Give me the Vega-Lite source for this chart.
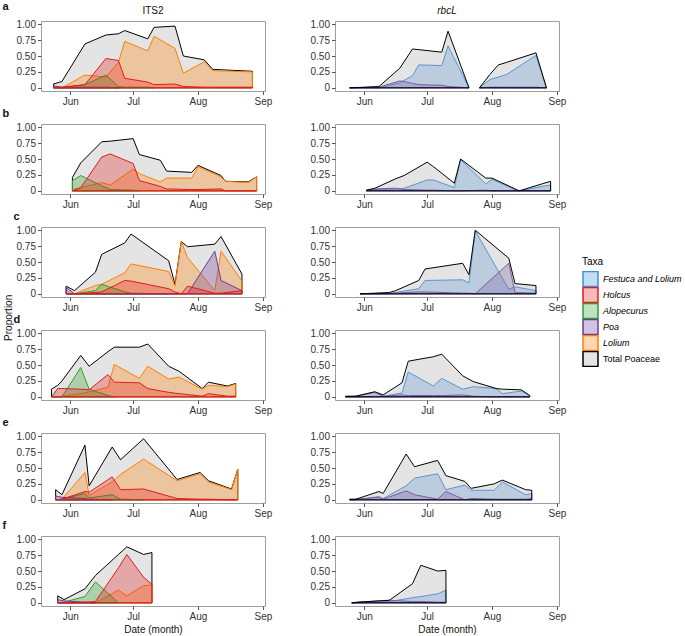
{
"$schema":"https://vega.github.io/schema/vega-lite/v6.json",
"padding":{"left":2,"top":0,"right":0,"bottom":0},
"background":"white",
"title":{"text":"Proportion","orient":"left","anchor":"middle","fontSize":10,"fontWeight":"normal","offset":-11},
"config":{
"font":"Liberation Sans",
"view":{"stroke":"#9e9e9e","strokeWidth":1},
"axis":{"grid":false,"domain":false,"tickColor":"#555555","tickSize":3.5,"labelFontSize":10,"labelColor":"#333333","labelPadding":2,"titleFontSize":10,"titleFontWeight":"normal","titleColor":"#111111","titlePadding":3},
"title":{"fontSize":10,"fontWeight":"normal","color":"#111111"}
},
"datasets":{
"aI":[
{"t":"T","d":"2017-05-24","v":0.06},{"t":"T","d":"2017-05-28","v":0.10},{"t":"T","d":"2017-06-08","v":0.69},{"t":"T","d":"2017-06-18","v":0.83},{"t":"T","d":"2017-06-24","v":0.85},{"t":"T","d":"2017-06-27","v":0.90},{"t":"T","d":"2017-07-08","v":0.77},{"t":"T","d":"2017-07-11","v":0.95},{"t":"T","d":"2017-07-21","v":0.97},{"t":"T","d":"2017-07-25","v":0.50},{"t":"T","d":"2017-08-04","v":0.44},{"t":"T","d":"2017-08-08","v":0.29},{"t":"T","d":"2017-08-27","v":0.26},
{"t":"Lo","d":"2017-05-24","v":0},{"t":"Lo","d":"2017-05-28","v":0},{"t":"Lo","d":"2017-06-08","v":0.20},{"t":"Lo","d":"2017-06-18","v":0.17},{"t":"Lo","d":"2017-06-24","v":0.40},{"t":"Lo","d":"2017-06-27","v":0.73},{"t":"Lo","d":"2017-07-08","v":0.58},{"t":"Lo","d":"2017-07-11","v":0.81},{"t":"Lo","d":"2017-07-21","v":0.62},{"t":"Lo","d":"2017-07-25","v":0.23},{"t":"Lo","d":"2017-08-04","v":0.41},{"t":"Lo","d":"2017-08-08","v":0.27},{"t":"Lo","d":"2017-08-27","v":0.25},
{"t":"Al","d":"2017-05-24","v":0},{"t":"Al","d":"2017-05-28","v":0},{"t":"Al","d":"2017-06-08","v":0.05},{"t":"Al","d":"2017-06-18","v":0.20},{"t":"Al","d":"2017-06-24","v":0.02},{"t":"Al","d":"2017-06-27","v":0.01},{"t":"Al","d":"2017-07-08","v":0.01},{"t":"Al","d":"2017-07-11","v":0},
{"t":"Po","d":"2017-05-24","v":0.03},{"t":"Po","d":"2017-05-28","v":0.01},{"t":"Po","d":"2017-06-08","v":0.01},{"t":"Po","d":"2017-06-18","v":0.01},{"t":"Po","d":"2017-06-24","v":0},
{"t":"Ho","d":"2017-05-24","v":0.01},{"t":"Ho","d":"2017-05-28","v":0.01},{"t":"Ho","d":"2017-06-08","v":0.05},{"t":"Ho","d":"2017-06-18","v":0.46},{"t":"Ho","d":"2017-06-24","v":0.43},{"t":"Ho","d":"2017-06-27","v":0.15},{"t":"Ho","d":"2017-07-08","v":0.09},{"t":"Ho","d":"2017-07-11","v":0.05},{"t":"Ho","d":"2017-07-21","v":0.06},{"t":"Ho","d":"2017-07-25","v":0.02},{"t":"Ho","d":"2017-08-04","v":0.01},{"t":"Ho","d":"2017-08-08","v":0.01},{"t":"Ho","d":"2017-08-27","v":0.01}
],
"bI":[
{"t":"T","d":"2017-06-02","v":0.21},{"t":"T","d":"2017-06-06","v":0.44},{"t":"T","d":"2017-06-16","v":0.77},{"t":"T","d":"2017-06-20","v":0.78},{"t":"T","d":"2017-07-01","v":0.82},{"t":"T","d":"2017-07-04","v":0.57},{"t":"T","d":"2017-07-14","v":0.48},{"t":"T","d":"2017-07-17","v":0.31},{"t":"T","d":"2017-07-29","v":0.29},{"t":"T","d":"2017-08-01","v":0.40},{"t":"T","d":"2017-08-12","v":0.24},{"t":"T","d":"2017-08-14","v":0.15},{"t":"T","d":"2017-08-25","v":0.14},{"t":"T","d":"2017-08-29","v":0.22},
{"t":"Lo","d":"2017-06-02","v":0.02},{"t":"Lo","d":"2017-06-06","v":0.05},{"t":"Lo","d":"2017-06-16","v":0.13},{"t":"Lo","d":"2017-06-20","v":0.09},{"t":"Lo","d":"2017-07-01","v":0.34},{"t":"Lo","d":"2017-07-04","v":0.27},{"t":"Lo","d":"2017-07-14","v":0.14},{"t":"Lo","d":"2017-07-17","v":0.20},{"t":"Lo","d":"2017-07-29","v":0.20},{"t":"Lo","d":"2017-08-01","v":0.38},{"t":"Lo","d":"2017-08-12","v":0.22},{"t":"Lo","d":"2017-08-14","v":0.15},{"t":"Lo","d":"2017-08-25","v":0.13},{"t":"Lo","d":"2017-08-29","v":0.22},
{"t":"Al","d":"2017-06-02","v":0.16},{"t":"Al","d":"2017-06-06","v":0.24},{"t":"Al","d":"2017-06-16","v":0.08},{"t":"Al","d":"2017-06-20","v":0.02},{"t":"Al","d":"2017-07-01","v":0.01},{"t":"Al","d":"2017-07-04","v":0},
{"t":"Ho","d":"2017-06-02","v":0},{"t":"Ho","d":"2017-06-06","v":0.05},{"t":"Ho","d":"2017-06-16","v":0.53},{"t":"Ho","d":"2017-06-20","v":0.58},{"t":"Ho","d":"2017-07-01","v":0.43},{"t":"Ho","d":"2017-07-04","v":0.16},{"t":"Ho","d":"2017-07-14","v":0.07},{"t":"Ho","d":"2017-07-17","v":0.03},{"t":"Ho","d":"2017-07-29","v":0.02},{"t":"Ho","d":"2017-08-01","v":0.02},{"t":"Ho","d":"2017-08-12","v":0.03},{"t":"Ho","d":"2017-08-14","v":0},{"t":"Ho","d":"2017-08-25","v":0},{"t":"Ho","d":"2017-08-29","v":0}
],
"cI":[
{"t":"T","d":"2017-05-30","v":0.12},{"t":"T","d":"2017-06-03","v":0.05},{"t":"T","d":"2017-06-13","v":0.34},{"t":"T","d":"2017-06-16","v":0.62},{"t":"T","d":"2017-06-27","v":0.80},{"t":"T","d":"2017-06-30","v":0.94},{"t":"T","d":"2017-07-18","v":0.52},{"t":"T","d":"2017-07-21","v":0.15},{"t":"T","d":"2017-07-24","v":0.82},{"t":"T","d":"2017-07-27","v":0.74},{"t":"T","d":"2017-08-09","v":0.78},{"t":"T","d":"2017-08-12","v":0.90},{"t":"T","d":"2017-08-22","v":0.31},
{"t":"Lo","d":"2017-05-30","v":0},{"t":"Lo","d":"2017-06-03","v":0},{"t":"Lo","d":"2017-06-13","v":0.13},{"t":"Lo","d":"2017-06-16","v":0.15},{"t":"Lo","d":"2017-06-27","v":0.33},{"t":"Lo","d":"2017-06-30","v":0.47},{"t":"Lo","d":"2017-07-18","v":0.35},{"t":"Lo","d":"2017-07-21","v":0.12},{"t":"Lo","d":"2017-07-24","v":0.82},{"t":"Lo","d":"2017-07-27","v":0.57},{"t":"Lo","d":"2017-08-09","v":0.05},{"t":"Lo","d":"2017-08-12","v":0.67},{"t":"Lo","d":"2017-08-22","v":0.20},
{"t":"Al","d":"2017-05-30","v":0},{"t":"Al","d":"2017-06-03","v":0},{"t":"Al","d":"2017-06-13","v":0.05},{"t":"Al","d":"2017-06-16","v":0.15},{"t":"Al","d":"2017-06-27","v":0.03},{"t":"Al","d":"2017-06-30","v":0.01},{"t":"Al","d":"2017-07-18","v":0},
{"t":"Po","d":"2017-05-30","v":0.10},{"t":"Po","d":"2017-06-03","v":0},{"t":"Po","d":"2017-06-13","v":0},{"t":"Po","d":"2017-06-16","v":0},{"t":"Po","d":"2017-06-27","v":0},{"t":"Po","d":"2017-06-30","v":0},{"t":"Po","d":"2017-07-18","v":0},{"t":"Po","d":"2017-07-21","v":0},{"t":"Po","d":"2017-07-24","v":0},{"t":"Po","d":"2017-07-27","v":0},{"t":"Po","d":"2017-08-09","v":0.67},{"t":"Po","d":"2017-08-12","v":0.21},{"t":"Po","d":"2017-08-22","v":0.05},
{"t":"Ho","d":"2017-05-30","v":0},{"t":"Ho","d":"2017-06-03","v":0},{"t":"Ho","d":"2017-06-13","v":0.02},{"t":"Ho","d":"2017-06-16","v":0.03},{"t":"Ho","d":"2017-06-27","v":0.21},{"t":"Ho","d":"2017-06-30","v":0.20},{"t":"Ho","d":"2017-07-18","v":0.08},{"t":"Ho","d":"2017-07-21","v":0.03},{"t":"Ho","d":"2017-07-24","v":0},{"t":"Ho","d":"2017-07-27","v":0.12},{"t":"Ho","d":"2017-08-09","v":0.01},{"t":"Ho","d":"2017-08-12","v":0.01},{"t":"Ho","d":"2017-08-22","v":0.05}
],
"dI":[
{"t":"T","d":"2017-05-23","v":0.12},{"t":"T","d":"2017-05-26","v":0.18},{"t":"T","d":"2017-05-28","v":0.25},{"t":"T","d":"2017-06-06","v":0.65},{"t":"T","d":"2017-06-10","v":0.48},{"t":"T","d":"2017-06-19","v":0.71},{"t":"T","d":"2017-06-22","v":0.78},{"t":"T","d":"2017-07-04","v":0.78},{"t":"T","d":"2017-07-08","v":0.83},{"t":"T","d":"2017-07-18","v":0.48},{"t":"T","d":"2017-07-23","v":0.40},{"t":"T","d":"2017-08-03","v":0.13},{"t":"T","d":"2017-08-06","v":0.23},{"t":"T","d":"2017-08-15","v":0.17},{"t":"T","d":"2017-08-19","v":0.21},
{"t":"Lo","d":"2017-05-23","v":0},{"t":"Lo","d":"2017-05-26","v":0},{"t":"Lo","d":"2017-05-28","v":0.01},{"t":"Lo","d":"2017-06-06","v":0.05},{"t":"Lo","d":"2017-06-10","v":0.08},{"t":"Lo","d":"2017-06-19","v":0.15},{"t":"Lo","d":"2017-06-22","v":0.51},{"t":"Lo","d":"2017-07-04","v":0.29},{"t":"Lo","d":"2017-07-08","v":0.48},{"t":"Lo","d":"2017-07-18","v":0.28},{"t":"Lo","d":"2017-07-23","v":0.31},{"t":"Lo","d":"2017-08-03","v":0.12},{"t":"Lo","d":"2017-08-06","v":0.18},{"t":"Lo","d":"2017-08-15","v":0.16},{"t":"Lo","d":"2017-08-19","v":0.20},
{"t":"Al","d":"2017-05-23","v":0},{"t":"Al","d":"2017-05-26","v":0},{"t":"Al","d":"2017-05-28","v":0},{"t":"Al","d":"2017-06-06","v":0.46},{"t":"Al","d":"2017-06-10","v":0.12},{"t":"Al","d":"2017-06-19","v":0.02},{"t":"Al","d":"2017-06-22","v":0},
{"t":"Ho","d":"2017-05-23","v":0},{"t":"Ho","d":"2017-05-26","v":0.13},{"t":"Ho","d":"2017-05-28","v":0.13},{"t":"Ho","d":"2017-06-06","v":0.12},{"t":"Ho","d":"2017-06-10","v":0.11},{"t":"Ho","d":"2017-06-19","v":0.35},{"t":"Ho","d":"2017-06-22","v":0.23},{"t":"Ho","d":"2017-07-04","v":0.22},{"t":"Ho","d":"2017-07-08","v":0.13},{"t":"Ho","d":"2017-07-18","v":0.07},{"t":"Ho","d":"2017-07-23","v":0.05},{"t":"Ho","d":"2017-08-03","v":0.01},{"t":"Ho","d":"2017-08-06","v":0.05},{"t":"Ho","d":"2017-08-15","v":0.01},{"t":"Ho","d":"2017-08-19","v":0.01}
],
"eI":[
{"t":"T","d":"2017-05-25","v":0.16},{"t":"T","d":"2017-05-28","v":0.08},{"t":"T","d":"2017-06-08","v":0.86},{"t":"T","d":"2017-06-10","v":0.22},{"t":"T","d":"2017-06-21","v":0.83},{"t":"T","d":"2017-06-25","v":0.63},{"t":"T","d":"2017-07-06","v":0.96},{"t":"T","d":"2017-07-22","v":0.32},{"t":"T","d":"2017-08-02","v":0.43},{"t":"T","d":"2017-08-06","v":0.30},{"t":"T","d":"2017-08-17","v":0.17},{"t":"T","d":"2017-08-20","v":0.48},
{"t":"Lo","d":"2017-05-25","v":0},{"t":"Lo","d":"2017-05-28","v":0.01},{"t":"Lo","d":"2017-06-08","v":0.43},{"t":"Lo","d":"2017-06-10","v":0.07},{"t":"Lo","d":"2017-06-21","v":0.28},{"t":"Lo","d":"2017-06-25","v":0.40},{"t":"Lo","d":"2017-07-06","v":0.64},{"t":"Lo","d":"2017-07-22","v":0.30},{"t":"Lo","d":"2017-08-02","v":0.41},{"t":"Lo","d":"2017-08-06","v":0.28},{"t":"Lo","d":"2017-08-17","v":0.16},{"t":"Lo","d":"2017-08-20","v":0.48},
{"t":"Al","d":"2017-05-25","v":0},{"t":"Al","d":"2017-05-28","v":0.01},{"t":"Al","d":"2017-06-08","v":0.10},{"t":"Al","d":"2017-06-10","v":0.03},{"t":"Al","d":"2017-06-21","v":0.08},{"t":"Al","d":"2017-06-25","v":0.01},{"t":"Al","d":"2017-07-06","v":0},
{"t":"Po","d":"2017-05-25","v":0.06},{"t":"Po","d":"2017-05-28","v":0.04},{"t":"Po","d":"2017-06-08","v":0.02},{"t":"Po","d":"2017-06-10","v":0.01},{"t":"Po","d":"2017-06-21","v":0},
{"t":"Ho","d":"2017-05-25","v":0},{"t":"Ho","d":"2017-05-28","v":0.01},{"t":"Ho","d":"2017-06-08","v":0.13},{"t":"Ho","d":"2017-06-10","v":0.12},{"t":"Ho","d":"2017-06-21","v":0.36},{"t":"Ho","d":"2017-06-25","v":0.16},{"t":"Ho","d":"2017-07-06","v":0.17},{"t":"Ho","d":"2017-07-22","v":0.02},{"t":"Ho","d":"2017-08-02","v":0.01},{"t":"Ho","d":"2017-08-06","v":0.01},{"t":"Ho","d":"2017-08-17","v":0},{"t":"Ho","d":"2017-08-20","v":0}
],
"fI":[
{"t":"T","d":"2017-05-26","v":0.11},{"t":"T","d":"2017-05-29","v":0.05},{"t":"T","d":"2017-06-08","v":0.22},{"t":"T","d":"2017-06-13","v":0.43},{"t":"T","d":"2017-06-24","v":0.76},{"t":"T","d":"2017-06-28","v":0.88},{"t":"T","d":"2017-07-06","v":0.76},{"t":"T","d":"2017-07-10","v":0.79},
{"t":"Lo","d":"2017-05-26","v":0},{"t":"Lo","d":"2017-05-29","v":0},{"t":"Lo","d":"2017-06-08","v":0},{"t":"Lo","d":"2017-06-13","v":0},{"t":"Lo","d":"2017-06-24","v":0.20},{"t":"Lo","d":"2017-06-28","v":0.11},{"t":"Lo","d":"2017-07-06","v":0.27},{"t":"Lo","d":"2017-07-10","v":0.28},
{"t":"Al","d":"2017-05-26","v":0},{"t":"Al","d":"2017-05-29","v":0.01},{"t":"Al","d":"2017-06-08","v":0.10},{"t":"Al","d":"2017-06-13","v":0.33},{"t":"Al","d":"2017-06-24","v":0},
{"t":"Po","d":"2017-05-26","v":0.05},{"t":"Po","d":"2017-05-29","v":0.03},{"t":"Po","d":"2017-06-08","v":0.01},{"t":"Po","d":"2017-06-13","v":0},
{"t":"Ho","d":"2017-05-26","v":0},{"t":"Ho","d":"2017-05-29","v":0},{"t":"Ho","d":"2017-06-08","v":0.01},{"t":"Ho","d":"2017-06-13","v":0.02},{"t":"Ho","d":"2017-06-24","v":0.55},{"t":"Ho","d":"2017-06-28","v":0.76},{"t":"Ho","d":"2017-07-06","v":0.40},{"t":"Ho","d":"2017-07-10","v":0.29}
],
"aR":[
{"t":"FL","g":1,"d":"2017-05-25","v":0},{"t":"FL","g":1,"d":"2017-06-08","v":0},{"t":"FL","g":1,"d":"2017-06-18","v":0.08},{"t":"FL","g":1,"d":"2017-06-24","v":0.19},{"t":"FL","g":1,"d":"2017-06-27","v":0.36},{"t":"FL","g":1,"d":"2017-07-08","v":0.35},{"t":"FL","g":1,"d":"2017-07-11","v":0.66},{"t":"FL","g":1,"d":"2017-07-21","v":0},
{"t":"FL","g":2,"d":"2017-07-26","v":0},{"t":"FL","g":2,"d":"2017-07-31","v":0.13},{"t":"FL","g":2,"d":"2017-08-04","v":0.17},{"t":"FL","g":2,"d":"2017-08-08","v":0.21},{"t":"FL","g":2,"d":"2017-08-22","v":0.51},{"t":"FL","g":2,"d":"2017-08-27","v":0},
{"t":"Po","g":1,"d":"2017-05-25","v":0},{"t":"Po","g":1,"d":"2017-06-08","v":0.01},{"t":"Po","g":1,"d":"2017-06-18","v":0.11},{"t":"Po","g":1,"d":"2017-06-24","v":0.07},{"t":"Po","g":1,"d":"2017-06-27","v":0.05},{"t":"Po","g":1,"d":"2017-07-08","v":0.04},{"t":"Po","g":1,"d":"2017-07-11","v":0.02},{"t":"Po","g":1,"d":"2017-07-21","v":0},
{"t":"Po","g":2,"d":"2017-07-26","v":0},{"t":"Po","g":2,"d":"2017-07-31","v":0.01},{"t":"Po","g":2,"d":"2017-08-04","v":0.01},{"t":"Po","g":2,"d":"2017-08-08","v":0.01},{"t":"Po","g":2,"d":"2017-08-22","v":0.01},{"t":"Po","g":2,"d":"2017-08-27","v":0},
{"t":"T","g":1,"d":"2017-05-25","v":0},{"t":"T","g":1,"d":"2017-06-08","v":0.02},{"t":"T","g":1,"d":"2017-06-18","v":0.31},{"t":"T","g":1,"d":"2017-06-24","v":0.61},{"t":"T","g":1,"d":"2017-06-27","v":0.60},{"t":"T","g":1,"d":"2017-07-08","v":0.56},{"t":"T","g":1,"d":"2017-07-11","v":0.89},{"t":"T","g":1,"d":"2017-07-21","v":0},
{"t":"T","g":2,"d":"2017-07-26","v":0},{"t":"T","g":2,"d":"2017-07-31","v":0.21},{"t":"T","g":2,"d":"2017-08-04","v":0.36},{"t":"T","g":2,"d":"2017-08-08","v":0.40},{"t":"T","g":2,"d":"2017-08-22","v":0.55},{"t":"T","g":2,"d":"2017-08-27","v":0}
],
"bR":[
{"t":"FL","d":"2017-06-02","v":0},{"t":"FL","d":"2017-06-06","v":0.02},{"t":"FL","d":"2017-06-16","v":0.03},{"t":"FL","d":"2017-06-20","v":0.04},{"t":"FL","d":"2017-07-01","v":0.17},{"t":"FL","d":"2017-07-04","v":0.17},{"t":"FL","d":"2017-07-14","v":0.05},{"t":"FL","d":"2017-07-17","v":0.49},{"t":"FL","d":"2017-07-29","v":0.11},{"t":"FL","d":"2017-08-01","v":0.18},{"t":"FL","d":"2017-08-12","v":0.02},{"t":"FL","d":"2017-08-14","v":0},{"t":"FL","d":"2017-08-25","v":0.07},{"t":"FL","d":"2017-08-29","v":0.09},
{"t":"Po","d":"2017-06-02","v":0.01},{"t":"Po","d":"2017-06-06","v":0.03},{"t":"Po","d":"2017-06-16","v":0.04},{"t":"Po","d":"2017-06-20","v":0.02},{"t":"Po","d":"2017-07-01","v":0.01},{"t":"Po","d":"2017-07-04","v":0.01},{"t":"Po","d":"2017-07-14","v":0},{"t":"Po","d":"2017-07-17","v":0},{"t":"Po","d":"2017-07-29","v":0.01},{"t":"Po","d":"2017-08-01","v":0},{"t":"Po","d":"2017-08-12","v":0},{"t":"Po","d":"2017-08-14","v":0},{"t":"Po","d":"2017-08-25","v":0},{"t":"Po","d":"2017-08-29","v":0},
{"t":"T","d":"2017-06-02","v":0.01},{"t":"T","d":"2017-06-06","v":0.04},{"t":"T","d":"2017-06-16","v":0.19},{"t":"T","d":"2017-06-20","v":0.24},{"t":"T","d":"2017-07-01","v":0.45},{"t":"T","d":"2017-07-04","v":0.38},{"t":"T","d":"2017-07-14","v":0.12},{"t":"T","d":"2017-07-17","v":0.50},{"t":"T","d":"2017-07-29","v":0.20},{"t":"T","d":"2017-08-01","v":0.20},{"t":"T","d":"2017-08-12","v":0.03},{"t":"T","d":"2017-08-14","v":0},{"t":"T","d":"2017-08-25","v":0.11},{"t":"T","d":"2017-08-29","v":0.15}
],
"cR":[
{"t":"FL","d":"2017-05-30","v":0},{"t":"FL","d":"2017-06-13","v":0.01},{"t":"FL","d":"2017-06-16","v":0.02},{"t":"FL","d":"2017-06-27","v":0.08},{"t":"FL","d":"2017-06-30","v":0.21},{"t":"FL","d":"2017-07-18","v":0.22},{"t":"FL","d":"2017-07-21","v":0.17},{"t":"FL","d":"2017-07-24","v":0.99},{"t":"FL","d":"2017-08-09","v":0.07},{"t":"FL","d":"2017-08-12","v":0.11},{"t":"FL","d":"2017-08-22","v":0.05},
{"t":"Po","d":"2017-05-30","v":0},{"t":"Po","d":"2017-06-13","v":0},{"t":"Po","d":"2017-06-16","v":0.01},{"t":"Po","d":"2017-06-27","v":0.03},{"t":"Po","d":"2017-06-30","v":0.03},{"t":"Po","d":"2017-07-18","v":0.01},{"t":"Po","d":"2017-07-21","v":0.01},{"t":"Po","d":"2017-07-24","v":0},{"t":"Po","d":"2017-08-09","v":0.48},{"t":"Po","d":"2017-08-12","v":0.02},{"t":"Po","d":"2017-08-22","v":0.01},
{"t":"T","d":"2017-05-30","v":0},{"t":"T","d":"2017-06-13","v":0.02},{"t":"T","d":"2017-06-16","v":0.05},{"t":"T","d":"2017-06-27","v":0.21},{"t":"T","d":"2017-06-30","v":0.39},{"t":"T","d":"2017-07-18","v":0.48},{"t":"T","d":"2017-07-21","v":0.30},{"t":"T","d":"2017-07-24","v":1.00},{"t":"T","d":"2017-08-09","v":0.56},{"t":"T","d":"2017-08-12","v":0.16},{"t":"T","d":"2017-08-22","v":0.13}
],
"dR":[
{"t":"FL","d":"2017-05-23","v":0},{"t":"FL","d":"2017-05-28","v":0},{"t":"FL","d":"2017-06-06","v":0},{"t":"FL","d":"2017-06-10","v":0.01},{"t":"FL","d":"2017-06-19","v":0.06},{"t":"FL","d":"2017-06-22","v":0.39},{"t":"FL","d":"2017-07-04","v":0.17},{"t":"FL","d":"2017-07-08","v":0.29},{"t":"FL","d":"2017-07-18","v":0.12},{"t":"FL","d":"2017-07-23","v":0.16},{"t":"FL","d":"2017-08-03","v":0.13},{"t":"FL","d":"2017-08-06","v":0.05},{"t":"FL","d":"2017-08-15","v":0.09},{"t":"FL","d":"2017-08-19","v":0.02},
{"t":"Po","d":"2017-05-23","v":0},{"t":"Po","d":"2017-05-28","v":0.01},{"t":"Po","d":"2017-06-06","v":0.07},{"t":"Po","d":"2017-06-10","v":0.01},{"t":"Po","d":"2017-06-19","v":0.03},{"t":"Po","d":"2017-06-22","v":0.02},{"t":"Po","d":"2017-07-04","v":0.02},{"t":"Po","d":"2017-07-08","v":0.02},{"t":"Po","d":"2017-07-18","v":0.03},{"t":"Po","d":"2017-07-23","v":0.01},{"t":"Po","d":"2017-08-03","v":0},{"t":"Po","d":"2017-08-06","v":0},{"t":"Po","d":"2017-08-15","v":0},{"t":"Po","d":"2017-08-19","v":0},
{"t":"T","d":"2017-05-23","v":0.01},{"t":"T","d":"2017-05-28","v":0.01},{"t":"T","d":"2017-06-06","v":0.08},{"t":"T","d":"2017-06-10","v":0.03},{"t":"T","d":"2017-06-19","v":0.22},{"t":"T","d":"2017-06-22","v":0.56},{"t":"T","d":"2017-07-04","v":0.63},{"t":"T","d":"2017-07-08","v":0.67},{"t":"T","d":"2017-07-18","v":0.33},{"t":"T","d":"2017-07-23","v":0.24},{"t":"T","d":"2017-08-03","v":0.13},{"t":"T","d":"2017-08-06","v":0.12},{"t":"T","d":"2017-08-15","v":0.11},{"t":"T","d":"2017-08-19","v":0.02}
],
"eR":[
{"t":"FL","d":"2017-05-25","v":0},{"t":"FL","d":"2017-05-28","v":0},{"t":"FL","d":"2017-06-08","v":0.05},{"t":"FL","d":"2017-06-10","v":0.02},{"t":"FL","d":"2017-06-21","v":0.22},{"t":"FL","d":"2017-06-25","v":0.34},{"t":"FL","d":"2017-07-06","v":0.41},{"t":"FL","d":"2017-07-10","v":0.16},{"t":"FL","d":"2017-07-19","v":0.23},{"t":"FL","d":"2017-07-22","v":0.15},{"t":"FL","d":"2017-08-02","v":0.15},{"t":"FL","d":"2017-08-06","v":0.28},{"t":"FL","d":"2017-08-17","v":0.08},{"t":"FL","d":"2017-08-20","v":0.10},
{"t":"Po","d":"2017-05-25","v":0},{"t":"Po","d":"2017-05-28","v":0.01},{"t":"Po","d":"2017-06-08","v":0.04},{"t":"Po","d":"2017-06-10","v":0.01},{"t":"Po","d":"2017-06-21","v":0.14},{"t":"Po","d":"2017-06-25","v":0.08},{"t":"Po","d":"2017-07-06","v":0.01},{"t":"Po","d":"2017-07-10","v":0.13},{"t":"Po","d":"2017-07-19","v":0},{"t":"Po","d":"2017-07-22","v":0.02},{"t":"Po","d":"2017-08-02","v":0.01},{"t":"Po","d":"2017-08-06","v":0.01},{"t":"Po","d":"2017-08-17","v":0.01},{"t":"Po","d":"2017-08-20","v":0.02},
{"t":"T","d":"2017-05-25","v":0.01},{"t":"T","d":"2017-05-28","v":0.01},{"t":"T","d":"2017-06-08","v":0.13},{"t":"T","d":"2017-06-10","v":0.10},{"t":"T","d":"2017-06-21","v":0.72},{"t":"T","d":"2017-06-25","v":0.52},{"t":"T","d":"2017-07-06","v":0.62},{"t":"T","d":"2017-07-10","v":0.38},{"t":"T","d":"2017-07-19","v":0.29},{"t":"T","d":"2017-07-22","v":0.18},{"t":"T","d":"2017-08-02","v":0.25},{"t":"T","d":"2017-08-06","v":0.31},{"t":"T","d":"2017-08-17","v":0.16},{"t":"T","d":"2017-08-20","v":0.15}
],
"fR":[
{"t":"FL","d":"2017-05-26","v":0},{"t":"FL","d":"2017-05-29","v":0},{"t":"FL","d":"2017-06-08","v":0.01},{"t":"FL","d":"2017-06-13","v":0.02},{"t":"FL","d":"2017-06-24","v":0.08},{"t":"FL","d":"2017-06-28","v":0.10},{"t":"FL","d":"2017-07-06","v":0.14},{"t":"FL","d":"2017-07-10","v":0.20},
{"t":"Po","d":"2017-05-26","v":0},{"t":"Po","d":"2017-05-29","v":0.01},{"t":"Po","d":"2017-06-08","v":0.03},{"t":"Po","d":"2017-06-13","v":0.04},{"t":"Po","d":"2017-06-24","v":0.02},{"t":"Po","d":"2017-06-28","v":0.02},{"t":"Po","d":"2017-07-06","v":0.01},{"t":"Po","d":"2017-07-10","v":0.01},
{"t":"T","d":"2017-05-26","v":0},{"t":"T","d":"2017-05-29","v":0.01},{"t":"T","d":"2017-06-08","v":0.03},{"t":"T","d":"2017-06-13","v":0.04},{"t":"T","d":"2017-06-24","v":0.30},{"t":"T","d":"2017-06-28","v":0.59},{"t":"T","d":"2017-07-06","v":0.50},{"t":"T","d":"2017-07-10","v":0.51}
]
},
"spacing":0,
"vconcat":[
{"title":{"text":"a","anchor":"start","frame":"bounds","fontSize":11,"fontWeight":"bold","offset":-6},"spacing":36,"hconcat":[
{"width":224,"height":70,"data":{"name":"aI"},"title":{"text":"ITS2","offset":3},"mark":{"type":"area","strokeWidth":1,"fillOpacity":0.3},"encoding":{
"x":{"field":"d","type":"temporal","scale":{"type":"utc","domain":[{"year":2017,"month":5,"date":18,"utc":true},{"year":2017,"month":9,"date":2,"utc":true}]},"axis":{"title":null,"values":[{"year":2017,"month":6,"date":1,"utc":true},{"year":2017,"month":7,"date":1,"utc":true},{"year":2017,"month":8,"date":1,"utc":true},{"year":2017,"month":9,"date":1,"utc":true}],"labelExpr":"utcFormat(datum.value, '%b')"}},
"y":{"field":"v","type":"quantitative","stack":null,"scale":{"domain":[-0.05,1.05],"nice":false,"zero":false},"axis":{"title":" ","values":[0,0.25,0.5,0.75,1],"labelExpr":"datum.value == 0 ? '0' : format(datum.value, '.2f')"}},
"y2":{"datum":0},
"fill":{"field":"t","type":"nominal","scale":{"domain":["FL","Ho","Al","Po","Lo","T"],"range":["#3b8ee0","#e41a1c","#2ca02c","#6a3d9a","#ff7f00","#a6a6a6"]},"legend":{"title":"Taxa","orient":"none","legendX":541,"legendY":236,"symbolType":"square","symbolSize":225,"symbolStrokeWidth":1.5,"rowPadding":0,"clipHeight":16,"labelFontSize":9,"titleFontSize":10,"titleFontWeight":"normal","titlePadding":4,"labelOffset":4,"labelExpr":"datum.label == 'FL' ? 'Festuca and Lolium' : datum.label == 'Ho' ? 'Holcus' : datum.label == 'Al' ? 'Alopecurus' : datum.label == 'Po' ? 'Poa' : datum.label == 'Lo' ? 'Lolium' : 'Total Poaceae'","encode":{"labels":{"update":{"fontStyle":{"signal":"datum.value == 'T' ? 'normal' : 'italic'"}}},"symbols":{"update":{"fillOpacity":{"value":0.3}}}}}},
"stroke":{"field":"t","type":"nominal","scale":{"domain":["FL","Ho","Al","Po","Lo","T"],"range":["#3b8ee0","#e41a1c","#2ca02c","#6a3d9a","#ff7f00","#000000"]},"legend":{"title":"Taxa","orient":"none","legendX":541,"legendY":236,"symbolType":"square","symbolSize":225,"symbolStrokeWidth":1.5,"rowPadding":0,"clipHeight":16,"labelFontSize":9,"titleFontSize":10,"titleFontWeight":"normal","titlePadding":4,"labelOffset":4,"labelExpr":"datum.label == 'FL' ? 'Festuca and Lolium' : datum.label == 'Ho' ? 'Holcus' : datum.label == 'Al' ? 'Alopecurus' : datum.label == 'Po' ? 'Poa' : datum.label == 'Lo' ? 'Lolium' : 'Total Poaceae'","encode":{"labels":{"update":{"fontStyle":{"signal":"datum.value == 'T' ? 'normal' : 'italic'"}}},"symbols":{"update":{"fillOpacity":{"value":0.3}}}}}}
}},
{"width":224,"height":70,"data":{"name":"aR"},"title":{"text":"rbcL","offset":3,"fontStyle":"italic"},"mark":{"type":"area","strokeWidth":1,"fillOpacity":0.3},"encoding":{
"x":{"field":"d","type":"temporal","scale":{"type":"utc","domain":[{"year":2017,"month":5,"date":18,"utc":true},{"year":2017,"month":9,"date":2,"utc":true}]},"axis":{"title":null,"values":[{"year":2017,"month":6,"date":1,"utc":true},{"year":2017,"month":7,"date":1,"utc":true},{"year":2017,"month":8,"date":1,"utc":true},{"year":2017,"month":9,"date":1,"utc":true}],"labelExpr":"utcFormat(datum.value, '%b')"}},
"y":{"field":"v","type":"quantitative","stack":null,"scale":{"domain":[-0.05,1.05],"nice":false,"zero":false},"axis":{"title":null,"values":[0,0.25,0.5,0.75,1],"labelExpr":"datum.value == 0 ? '0' : format(datum.value, '.2f')"}},
"y2":{"datum":0},
"detail":{"field":"g"},
"fill":{"field":"t","type":"nominal","scale":{"domain":["FL","Ho","Al","Po","Lo","T"],"range":["#3b8ee0","#e41a1c","#2ca02c","#6a3d9a","#ff7f00","#a6a6a6"]},"legend":null},
"stroke":{"field":"t","type":"nominal","scale":{"domain":["FL","Ho","Al","Po","Lo","T"],"range":["#3b8ee0","#e41a1c","#2ca02c","#6a3d9a","#ff7f00","#000000"]},"legend":null}
}}
]},
{"title":{"text":"b","anchor":"start","frame":"bounds","fontSize":11,"fontWeight":"bold","offset":3},"spacing":36,"hconcat":[
{"width":224,"height":70,"data":{"name":"bI"},"mark":{"type":"area","strokeWidth":1,"fillOpacity":0.3},"encoding":{
"x":{"field":"d","type":"temporal","scale":{"type":"utc","domain":[{"year":2017,"month":5,"date":18,"utc":true},{"year":2017,"month":9,"date":2,"utc":true}]},"axis":{"title":null,"values":[{"year":2017,"month":6,"date":1,"utc":true},{"year":2017,"month":7,"date":1,"utc":true},{"year":2017,"month":8,"date":1,"utc":true},{"year":2017,"month":9,"date":1,"utc":true}],"labelExpr":"utcFormat(datum.value, '%b')"}},
"y":{"field":"v","type":"quantitative","stack":null,"scale":{"domain":[-0.05,1.05],"nice":false,"zero":false},"axis":{"title":" ","values":[0,0.25,0.5,0.75,1],"labelExpr":"datum.value == 0 ? '0' : format(datum.value, '.2f')"}},
"y2":{"datum":0},
"fill":{"field":"t","type":"nominal","scale":{"domain":["FL","Ho","Al","Po","Lo","T"],"range":["#3b8ee0","#e41a1c","#2ca02c","#6a3d9a","#ff7f00","#a6a6a6"]},"legend":null},
"stroke":{"field":"t","type":"nominal","scale":{"domain":["FL","Ho","Al","Po","Lo","T"],"range":["#3b8ee0","#e41a1c","#2ca02c","#6a3d9a","#ff7f00","#000000"]},"legend":null}
}},
{"width":224,"height":70,"data":{"name":"bR"},"mark":{"type":"area","strokeWidth":1,"fillOpacity":0.3},"encoding":{
"x":{"field":"d","type":"temporal","scale":{"type":"utc","domain":[{"year":2017,"month":5,"date":18,"utc":true},{"year":2017,"month":9,"date":2,"utc":true}]},"axis":{"title":null,"values":[{"year":2017,"month":6,"date":1,"utc":true},{"year":2017,"month":7,"date":1,"utc":true},{"year":2017,"month":8,"date":1,"utc":true},{"year":2017,"month":9,"date":1,"utc":true}],"labelExpr":"utcFormat(datum.value, '%b')"}},
"y":{"field":"v","type":"quantitative","stack":null,"scale":{"domain":[-0.05,1.05],"nice":false,"zero":false},"axis":{"title":null,"values":[0,0.25,0.5,0.75,1],"labelExpr":"datum.value == 0 ? '0' : format(datum.value, '.2f')"}},
"y2":{"datum":0},
"fill":{"field":"t","type":"nominal","scale":{"domain":["FL","Ho","Al","Po","Lo","T"],"range":["#3b8ee0","#e41a1c","#2ca02c","#6a3d9a","#ff7f00","#a6a6a6"]},"legend":null},
"stroke":{"field":"t","type":"nominal","scale":{"domain":["FL","Ho","Al","Po","Lo","T"],"range":["#3b8ee0","#e41a1c","#2ca02c","#6a3d9a","#ff7f00","#000000"]},"legend":null}
}}
]},
{"title":{"text":"c","anchor":"start","frame":"bounds","fontSize":11,"fontWeight":"bold","offset":3,"dx":11},"spacing":36,"hconcat":[
{"width":224,"height":70,"data":{"name":"cI"},"mark":{"type":"area","strokeWidth":1,"fillOpacity":0.3},"encoding":{
"x":{"field":"d","type":"temporal","scale":{"type":"utc","domain":[{"year":2017,"month":5,"date":18,"utc":true},{"year":2017,"month":9,"date":2,"utc":true}]},"axis":{"title":null,"values":[{"year":2017,"month":6,"date":1,"utc":true},{"year":2017,"month":7,"date":1,"utc":true},{"year":2017,"month":8,"date":1,"utc":true},{"year":2017,"month":9,"date":1,"utc":true}],"labelExpr":"utcFormat(datum.value, '%b')"}},
"y":{"field":"v","type":"quantitative","stack":null,"scale":{"domain":[-0.05,1.05],"nice":false,"zero":false},"axis":{"title":" ","values":[0,0.25,0.5,0.75,1],"labelExpr":"datum.value == 0 ? '0' : format(datum.value, '.2f')"}},
"y2":{"datum":0},
"fill":{"field":"t","type":"nominal","scale":{"domain":["FL","Ho","Al","Po","Lo","T"],"range":["#3b8ee0","#e41a1c","#2ca02c","#6a3d9a","#ff7f00","#a6a6a6"]},"legend":null},
"stroke":{"field":"t","type":"nominal","scale":{"domain":["FL","Ho","Al","Po","Lo","T"],"range":["#3b8ee0","#e41a1c","#2ca02c","#6a3d9a","#ff7f00","#000000"]},"legend":null}
}},
{"width":224,"height":70,"data":{"name":"cR"},"mark":{"type":"area","strokeWidth":1,"fillOpacity":0.3},"encoding":{
"x":{"field":"d","type":"temporal","scale":{"type":"utc","domain":[{"year":2017,"month":5,"date":18,"utc":true},{"year":2017,"month":9,"date":2,"utc":true}]},"axis":{"title":null,"values":[{"year":2017,"month":6,"date":1,"utc":true},{"year":2017,"month":7,"date":1,"utc":true},{"year":2017,"month":8,"date":1,"utc":true},{"year":2017,"month":9,"date":1,"utc":true}],"labelExpr":"utcFormat(datum.value, '%b')"}},
"y":{"field":"v","type":"quantitative","stack":null,"scale":{"domain":[-0.05,1.05],"nice":false,"zero":false},"axis":{"title":null,"values":[0,0.25,0.5,0.75,1],"labelExpr":"datum.value == 0 ? '0' : format(datum.value, '.2f')"}},
"y2":{"datum":0},
"fill":{"field":"t","type":"nominal","scale":{"domain":["FL","Ho","Al","Po","Lo","T"],"range":["#3b8ee0","#e41a1c","#2ca02c","#6a3d9a","#ff7f00","#a6a6a6"]},"legend":null},
"stroke":{"field":"t","type":"nominal","scale":{"domain":["FL","Ho","Al","Po","Lo","T"],"range":["#3b8ee0","#e41a1c","#2ca02c","#6a3d9a","#ff7f00","#000000"]},"legend":null}
}}
]},
{"title":{"text":"d","anchor":"start","frame":"bounds","fontSize":11,"fontWeight":"bold","offset":3,"dx":11},"spacing":36,"hconcat":[
{"width":224,"height":70,"data":{"name":"dI"},"mark":{"type":"area","strokeWidth":1,"fillOpacity":0.3},"encoding":{
"x":{"field":"d","type":"temporal","scale":{"type":"utc","domain":[{"year":2017,"month":5,"date":18,"utc":true},{"year":2017,"month":9,"date":2,"utc":true}]},"axis":{"title":null,"values":[{"year":2017,"month":6,"date":1,"utc":true},{"year":2017,"month":7,"date":1,"utc":true},{"year":2017,"month":8,"date":1,"utc":true},{"year":2017,"month":9,"date":1,"utc":true}],"labelExpr":"utcFormat(datum.value, '%b')"}},
"y":{"field":"v","type":"quantitative","stack":null,"scale":{"domain":[-0.05,1.05],"nice":false,"zero":false},"axis":{"title":" ","values":[0,0.25,0.5,0.75,1],"labelExpr":"datum.value == 0 ? '0' : format(datum.value, '.2f')"}},
"y2":{"datum":0},
"fill":{"field":"t","type":"nominal","scale":{"domain":["FL","Ho","Al","Po","Lo","T"],"range":["#3b8ee0","#e41a1c","#2ca02c","#6a3d9a","#ff7f00","#a6a6a6"]},"legend":null},
"stroke":{"field":"t","type":"nominal","scale":{"domain":["FL","Ho","Al","Po","Lo","T"],"range":["#3b8ee0","#e41a1c","#2ca02c","#6a3d9a","#ff7f00","#000000"]},"legend":null}
}},
{"width":224,"height":70,"data":{"name":"dR"},"mark":{"type":"area","strokeWidth":1,"fillOpacity":0.3},"encoding":{
"x":{"field":"d","type":"temporal","scale":{"type":"utc","domain":[{"year":2017,"month":5,"date":18,"utc":true},{"year":2017,"month":9,"date":2,"utc":true}]},"axis":{"title":null,"values":[{"year":2017,"month":6,"date":1,"utc":true},{"year":2017,"month":7,"date":1,"utc":true},{"year":2017,"month":8,"date":1,"utc":true},{"year":2017,"month":9,"date":1,"utc":true}],"labelExpr":"utcFormat(datum.value, '%b')"}},
"y":{"field":"v","type":"quantitative","stack":null,"scale":{"domain":[-0.05,1.05],"nice":false,"zero":false},"axis":{"title":null,"values":[0,0.25,0.5,0.75,1],"labelExpr":"datum.value == 0 ? '0' : format(datum.value, '.2f')"}},
"y2":{"datum":0},
"fill":{"field":"t","type":"nominal","scale":{"domain":["FL","Ho","Al","Po","Lo","T"],"range":["#3b8ee0","#e41a1c","#2ca02c","#6a3d9a","#ff7f00","#a6a6a6"]},"legend":null},
"stroke":{"field":"t","type":"nominal","scale":{"domain":["FL","Ho","Al","Po","Lo","T"],"range":["#3b8ee0","#e41a1c","#2ca02c","#6a3d9a","#ff7f00","#000000"]},"legend":null}
}}
]},
{"title":{"text":"e","anchor":"start","frame":"bounds","fontSize":11,"fontWeight":"bold","offset":3},"spacing":36,"hconcat":[
{"width":224,"height":70,"data":{"name":"eI"},"mark":{"type":"area","strokeWidth":1,"fillOpacity":0.3},"encoding":{
"x":{"field":"d","type":"temporal","scale":{"type":"utc","domain":[{"year":2017,"month":5,"date":18,"utc":true},{"year":2017,"month":9,"date":2,"utc":true}]},"axis":{"title":null,"values":[{"year":2017,"month":6,"date":1,"utc":true},{"year":2017,"month":7,"date":1,"utc":true},{"year":2017,"month":8,"date":1,"utc":true},{"year":2017,"month":9,"date":1,"utc":true}],"labelExpr":"utcFormat(datum.value, '%b')"}},
"y":{"field":"v","type":"quantitative","stack":null,"scale":{"domain":[-0.05,1.05],"nice":false,"zero":false},"axis":{"title":" ","values":[0,0.25,0.5,0.75,1],"labelExpr":"datum.value == 0 ? '0' : format(datum.value, '.2f')"}},
"y2":{"datum":0},
"fill":{"field":"t","type":"nominal","scale":{"domain":["FL","Ho","Al","Po","Lo","T"],"range":["#3b8ee0","#e41a1c","#2ca02c","#6a3d9a","#ff7f00","#a6a6a6"]},"legend":null},
"stroke":{"field":"t","type":"nominal","scale":{"domain":["FL","Ho","Al","Po","Lo","T"],"range":["#3b8ee0","#e41a1c","#2ca02c","#6a3d9a","#ff7f00","#000000"]},"legend":null}
}},
{"width":224,"height":70,"data":{"name":"eR"},"mark":{"type":"area","strokeWidth":1,"fillOpacity":0.3},"encoding":{
"x":{"field":"d","type":"temporal","scale":{"type":"utc","domain":[{"year":2017,"month":5,"date":18,"utc":true},{"year":2017,"month":9,"date":2,"utc":true}]},"axis":{"title":null,"values":[{"year":2017,"month":6,"date":1,"utc":true},{"year":2017,"month":7,"date":1,"utc":true},{"year":2017,"month":8,"date":1,"utc":true},{"year":2017,"month":9,"date":1,"utc":true}],"labelExpr":"utcFormat(datum.value, '%b')"}},
"y":{"field":"v","type":"quantitative","stack":null,"scale":{"domain":[-0.05,1.05],"nice":false,"zero":false},"axis":{"title":null,"values":[0,0.25,0.5,0.75,1],"labelExpr":"datum.value == 0 ? '0' : format(datum.value, '.2f')"}},
"y2":{"datum":0},
"fill":{"field":"t","type":"nominal","scale":{"domain":["FL","Ho","Al","Po","Lo","T"],"range":["#3b8ee0","#e41a1c","#2ca02c","#6a3d9a","#ff7f00","#a6a6a6"]},"legend":null},
"stroke":{"field":"t","type":"nominal","scale":{"domain":["FL","Ho","Al","Po","Lo","T"],"range":["#3b8ee0","#e41a1c","#2ca02c","#6a3d9a","#ff7f00","#000000"]},"legend":null}
}}
]},
{"title":{"text":"f","anchor":"start","frame":"bounds","fontSize":11,"fontWeight":"bold","offset":3},"spacing":36,"hconcat":[
{"width":224,"height":70,"data":{"name":"fI"},"mark":{"type":"area","strokeWidth":1,"fillOpacity":0.3},"encoding":{
"x":{"field":"d","type":"temporal","scale":{"type":"utc","domain":[{"year":2017,"month":5,"date":18,"utc":true},{"year":2017,"month":9,"date":2,"utc":true}]},"axis":{"title":"Date (month)","values":[{"year":2017,"month":6,"date":1,"utc":true},{"year":2017,"month":7,"date":1,"utc":true},{"year":2017,"month":8,"date":1,"utc":true},{"year":2017,"month":9,"date":1,"utc":true}],"labelExpr":"utcFormat(datum.value, '%b')"}},
"y":{"field":"v","type":"quantitative","stack":null,"scale":{"domain":[-0.05,1.05],"nice":false,"zero":false},"axis":{"title":" ","values":[0,0.25,0.5,0.75,1],"labelExpr":"datum.value == 0 ? '0' : format(datum.value, '.2f')"}},
"y2":{"datum":0},
"fill":{"field":"t","type":"nominal","scale":{"domain":["FL","Ho","Al","Po","Lo","T"],"range":["#3b8ee0","#e41a1c","#2ca02c","#6a3d9a","#ff7f00","#a6a6a6"]},"legend":null},
"stroke":{"field":"t","type":"nominal","scale":{"domain":["FL","Ho","Al","Po","Lo","T"],"range":["#3b8ee0","#e41a1c","#2ca02c","#6a3d9a","#ff7f00","#000000"]},"legend":null}
}},
{"width":224,"height":70,"data":{"name":"fR"},"mark":{"type":"area","strokeWidth":1,"fillOpacity":0.3},"encoding":{
"x":{"field":"d","type":"temporal","scale":{"type":"utc","domain":[{"year":2017,"month":5,"date":18,"utc":true},{"year":2017,"month":9,"date":2,"utc":true}]},"axis":{"title":"Date (month)","values":[{"year":2017,"month":6,"date":1,"utc":true},{"year":2017,"month":7,"date":1,"utc":true},{"year":2017,"month":8,"date":1,"utc":true},{"year":2017,"month":9,"date":1,"utc":true}],"labelExpr":"utcFormat(datum.value, '%b')"}},
"y":{"field":"v","type":"quantitative","stack":null,"scale":{"domain":[-0.05,1.05],"nice":false,"zero":false},"axis":{"title":null,"values":[0,0.25,0.5,0.75,1],"labelExpr":"datum.value == 0 ? '0' : format(datum.value, '.2f')"}},
"y2":{"datum":0},
"fill":{"field":"t","type":"nominal","scale":{"domain":["FL","Ho","Al","Po","Lo","T"],"range":["#3b8ee0","#e41a1c","#2ca02c","#6a3d9a","#ff7f00","#a6a6a6"]},"legend":null},
"stroke":{"field":"t","type":"nominal","scale":{"domain":["FL","Ho","Al","Po","Lo","T"],"range":["#3b8ee0","#e41a1c","#2ca02c","#6a3d9a","#ff7f00","#000000"]},"legend":null}
}}
]}
],
"resolve":{"scale":{"fill":"shared","stroke":"shared"},"legend":{"fill":"shared","stroke":"shared"}}
}
